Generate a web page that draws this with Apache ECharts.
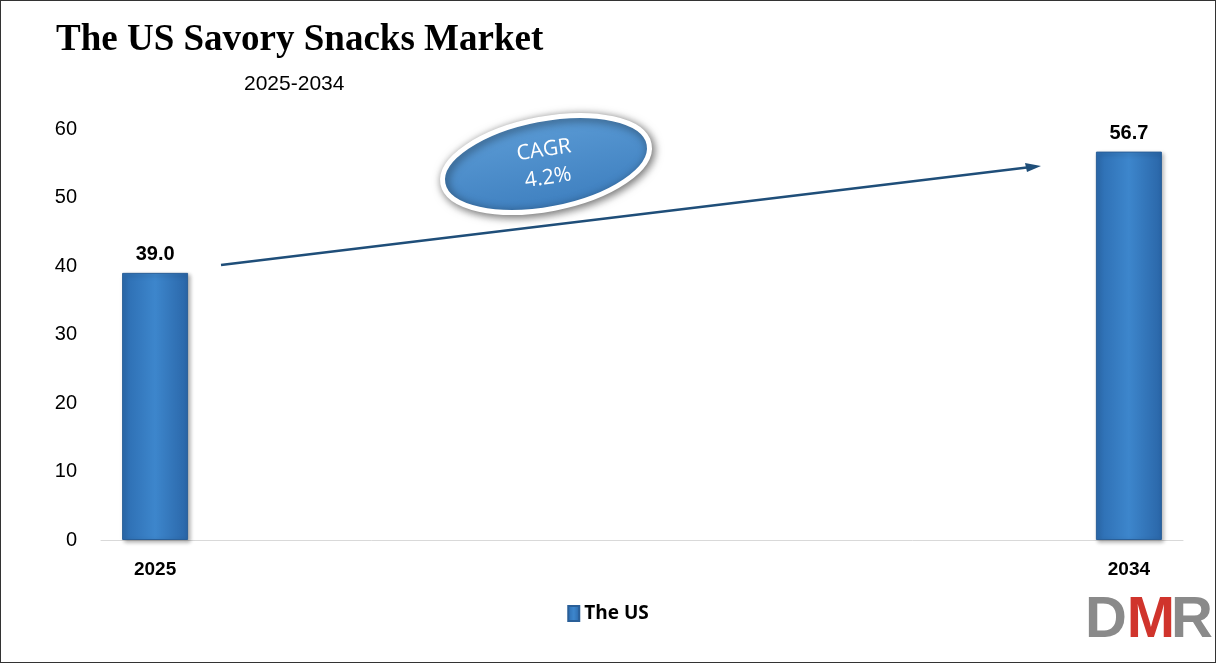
<!DOCTYPE html><html><head><meta charset="utf-8">
<script src="https://cdn.jsdelivr.net/npm/echarts@6/dist/echarts.min.js"></script>
<style>html,body{margin:0;padding:0;background:#fff}#c{width:1216px;height:663px;box-sizing:border-box;border:1px solid #333}</style>
</head><body><div id="c"></div><script>
const years=['2025','2026','2027','2028','2029','2030','2031','2032','2033','2034'];
const values=[39.0,null,null,null,null,null,null,null,null,56.7];
const yTicks=[0,10,20,30,40,50,60];
const cagr='CAGR\n4.2%';
const chart=echarts.init(document.getElementById('c'));
const barColor={type:'linear',x:0,y:0,x2:1,y2:0,colorStops:[{offset:0,color:'#2c6cb0'},{offset:0.5,color:'#3d86cc'},{offset:1,color:'#2a66a8'}]};
chart.setOption({
 animation:false,
 title:[{text:'The US Savory Snacks Market',left:50,top:16,textStyle:{fontFamily:'Liberation Serif',fontWeight:'bold',fontSize:37,color:'#000'}},
        {text:'2025-2034',left:238,top:68,textStyle:{fontFamily:'Liberation Sans',fontWeight:'normal',fontSize:21,color:'#000'}}],
 legend:{bottom:34,left:'center',itemWidth:11,itemHeight:15,icon:'rect',textStyle:{fontFamily:'Open Sans',fontWeight:'bold',fontSize:19,color:'#000'},data:['The US']},
 grid:{left:100,right:32,top:128,bottom:122,containLabel:false},
 xAxis:{type:'category',data:years,axisTick:{show:false},axisLine:{lineStyle:{color:'#d9d9d9'}},
   axisLabel:{interval:0,margin:20,fontFamily:'Liberation Sans',fontWeight:'bold',fontSize:19,color:'#000',formatter:(v,i)=>(i===0||i===years.length-1)?v:''}},
 yAxis:{type:'value',min:yTicks[0],max:yTicks[yTicks.length-1],interval:10,splitLine:{show:false},axisLine:{show:false},axisTick:{show:false},
   axisLabel:{margin:24,fontFamily:'Liberation Sans',fontSize:20,color:'#000'}},
 series:[{name:'The US',type:'bar',data:values,barWidth:66,itemStyle:{color:barColor,borderColor:'#2a5f98',borderWidth:1,shadowColor:'rgba(0,0,0,0.3)',shadowBlur:4,shadowOffsetX:2,shadowOffsetY:2},
   label:{show:true,position:'top',distance:8,formatter:p=>p.value==null?'':p.value.toFixed(1),fontFamily:'Liberation Sans',fontWeight:'bold',fontSize:20,color:'#000'}}],
 graphic:[
  {type:'line',shape:{x1:220,y1:264,x2:1030,y2:166},style:{stroke:'#1f4e79',lineWidth:2.5}},
  {type:'polygon',shape:{points:[[1040,165],[1024,162],[1026,171]]},style:{fill:'#1f4e79'}},
  {type:'ellipse',x:545,y:163,rotation:0.19,shape:{cx:0,cy:0,rx:105,ry:45},
   style:{fill:{type:'linear',x:0,y:0,x2:0,y2:1,colorStops:[{offset:0,color:'#5b9bd5'},{offset:1,color:'#3e7fbf'}]},stroke:'#fff',lineWidth:5,shadowColor:'rgba(0,0,0,0.55)',shadowBlur:10,shadowOffsetX:2,shadowOffsetY:2}},
  {type:'text',x:545,y:163,rotation:0.15,style:{text:cagr,align:'center',verticalAlign:'middle',fill:'#fff',font:'21px "Open Sans"',lineHeight:28}},
  {type:'text',right:88,bottom:12,style:{text:'D',fill:'#8a8a8a',font:'bold 58px "Liberation Sans"'}},
  {type:'text',right:40,bottom:12,style:{text:'M',fill:'#d0342c',font:'bold 58px "Liberation Sans"'}},
  {type:'text',right:2,bottom:12,style:{text:'R',fill:'#8a8a8a',font:'bold 58px "Liberation Sans"'}}
 ]
});
</script></body></html>
